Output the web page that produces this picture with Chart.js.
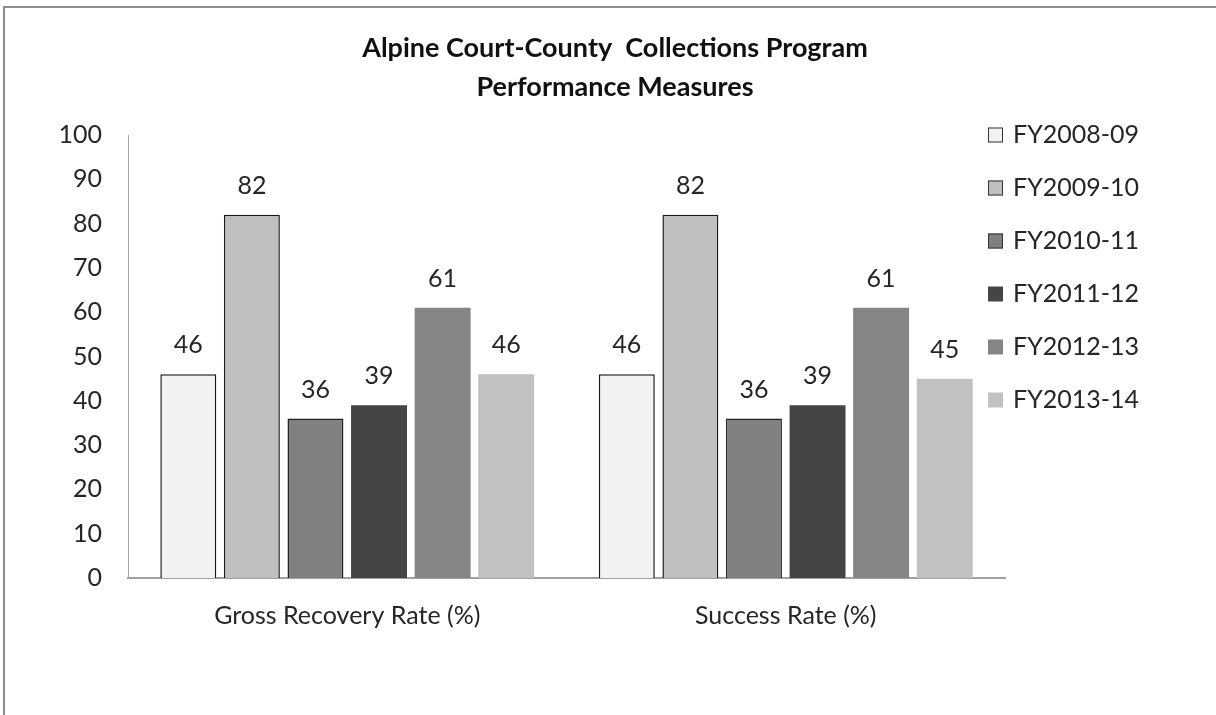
<!DOCTYPE html>
<html>
<head>
<meta charset="utf-8">
<script src="https://cdn.jsdelivr.net/npm/chart.js@4.4.1/dist/chart.umd.min.js"></script>
<style>
  html, body { margin: 0; padding: 0; background: #fff; }
  #frame { position: absolute; left: 3px; top: 6px; width: 1400px; height: 900px;
           border-left: 2px solid #8c8c8c; border-top: 2px solid #8c8c8c; }
  #chart { position: absolute; left: 0; top: 0; }
</style>
</head>
<body>
<div id="frame"></div>
<canvas id="chart" width="1216" height="715"></canvas>
<script>
// データ
const categories = ['Gross Recovery Rate (%)', 'Success Rate (%)'];
const years = ['FY2008-09', 'FY2009-10', 'FY2010-11', 'FY2011-12', 'FY2012-13', 'FY2013-14'];
const fy0809 = [46, 46];
const fy0910 = [82, 82];
const fy1011 = [36, 36];
const fy1112 = [39, 39];
const fy1213 = [61, 61];
const fy1314 = [46, 45];
const titleLines = ['Alpine Court-County  Collections Program', 'Performance Measures'];

const seriesValues = [fy0809, fy0910, fy1011, fy1112, fy1213, fy1314];
const fills = ['#f2f2f2', '#bfbfbf', '#808080', '#454545', '#858585', '#c1c1c1'];
const borders = ['#1a1a1a', '#1a1a1a', '#222222', '#454545', '#858585', '#c1c1c1'];
const borderWidths = [1.5, 1.5, 1.5, 0, 0, 0];

const FONT = 'Lato, "Open Sans", sans-serif';
const TEXT = '#262626';

// タイトル・凡例・値ラベルを描くプラグイン
const decorPlugin = {
    id: 'decor',
    afterDatasetsDraw(chart) {
        const ctx = chart.ctx;
        ctx.save();
        // 値ラベル
        ctx.font = '25px ' + FONT;
        ctx.fillStyle = TEXT;
        ctx.textAlign = 'center';
        ctx.textBaseline = 'middle';
        chart.data.datasets.forEach((ds, i) => {
            chart.getDatasetMeta(i).data.forEach((bar, j) => {
                ctx.fillText(String(ds.data[j]), bar.x, bar.y - 29);
            });
        });
        // タイトル
        ctx.font = 'bold 27px ' + FONT;
        ctx.fillStyle = '#111';
        titleLines.forEach((t, i) => {
            ctx.fillText(t, 615, 48 + i * 39);
        });
        // 凡例
        ctx.font = '25px ' + FONT;
        ctx.textAlign = 'left';
        chart.data.datasets.forEach((ds, i) => {
            const y = 135 + i * 53;
            ctx.fillStyle = ds.backgroundColor;
            ctx.fillRect(988, y - 7.5, 15, 15);
            if (ds.borderWidth > 0) {
                ctx.strokeStyle = '#333';
                ctx.lineWidth = 1;
                ctx.strokeRect(988.5, y - 7, 14, 14);
            }
            ctx.fillStyle = TEXT;
            ctx.fillText(ds.label, 1013, y);
        });
        ctx.restore();
    }
};

const datasets = years.map((y, i) => ({
    label: y,
    data: seriesValues[i],
    backgroundColor: fills[i],
    borderColor: borders[i],
    borderWidth: borderWidths[i],
    barPercentage: 0.88,
    categoryPercentage: 0.87
}));

new Chart(document.getElementById('chart').getContext('2d'), {
    type: 'bar',
    data: { labels: categories, datasets: datasets },
    options: {
        responsive: false,
        animation: false,
        devicePixelRatio: 1,
        layout: { padding: { top: 135, right: 211, left: 0, bottom: 0 } },
        plugins: {
            legend: { display: false },
            title: { display: false },
            tooltip: { enabled: false }
        },
        scales: {
            x: {
                afterFit: (s) => { s.height = 137; },
                grid: { display: false, drawTicks: false },
                border: { color: '#a0a0a0', width: 2 },
                ticks: { color: TEXT, font: { family: FONT, size: 25 }, padding: 23 }
            },
            y: {
                min: 0,
                max: 100,
                afterFit: (s) => { s.width = 128; },
                grid: { display: false, drawTicks: false },
                border: { color: '#a6a6a6', width: 1 },
                ticks: { stepSize: 10, color: TEXT, font: { family: FONT, size: 25 }, padding: 26 }
            }
        }
    },
    plugins: [decorPlugin]
});
</script>
</body>
</html>
